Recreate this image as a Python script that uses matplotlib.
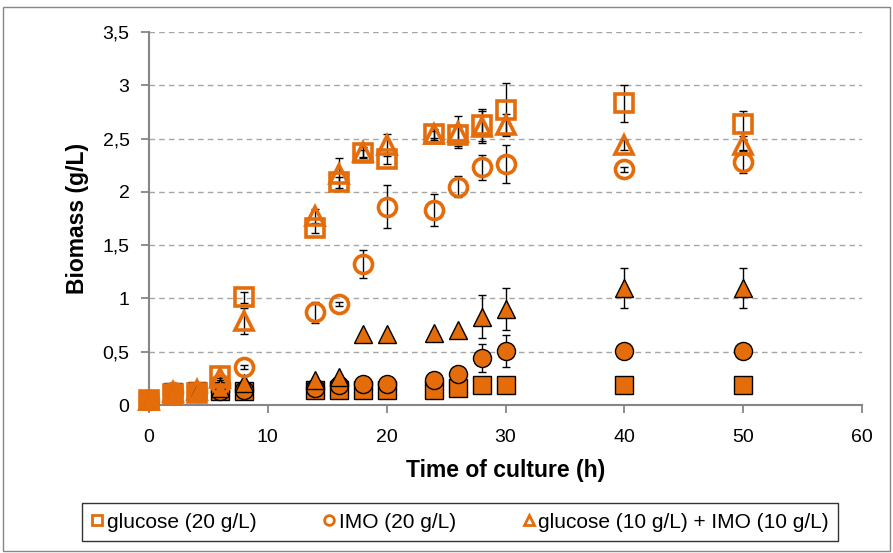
import matplotlib.pyplot as plt
import numpy as np
from matplotlib.ticker import FuncFormatter

plt.rcParams['font.family'] = ['Liberation Sans', 'DejaVu Sans']

# 取样时间 (h)
t = [0, 2, 4, 6, 8, 14, 16, 18, 20, 24, 26, 28, 30, 40, 50]

# 空心标记：生物量
glc_open = [0.05, 0.10, 0.11, 0.27, 1.01, 1.66, 2.09, 2.36, 2.31, 2.54, 2.53, 2.63, 2.77, 2.83, 2.64]
imo_open = [0.05, 0.12, 0.12, 0.20, 0.36, 0.87, 0.95, 1.32, 1.86, 1.83, 2.05, 2.23, 2.26, 2.21, 2.28]
mix_open = [0.05, 0.12, 0.14, 0.25, 0.79, 1.77, 2.17, 2.37, 2.44, 2.54, 2.56, 2.61, 2.63, 2.44, 2.44]
glc_open_err = [0.02, 0.02, 0.02, 0.02, 0.05, 0.05, 0.05, 0.03, 0.05, 0.03, 0.10, 0.15, 0.25, 0.17, 0.12]
imo_open_err = [0.02, 0.02, 0.02, 0.02, 0.02, 0.10, 0.02, 0.13, 0.20, 0.15, 0.10, 0.12, 0.18, 0.02, 0.10]
mix_open_err = [0.02, 0.02, 0.02, 0.02, 0.12, 0.07, 0.15, 0.05, 0.10, 0.05, 0.15, 0.15, 0.10, 0.05, 0.05]

# 实心标记
glc_fill = [0.05, 0.12, 0.13, 0.13, 0.13, 0.14, 0.14, 0.14, 0.14, 0.14, 0.16, 0.19, 0.19, 0.19, 0.19]
imo_fill = [0.06, 0.12, 0.12, 0.13, 0.14, 0.16, 0.19, 0.20, 0.20, 0.23, 0.29, 0.44, 0.51, 0.51, 0.51]
mix_fill = [0.05, 0.12, 0.13, 0.16, 0.21, 0.23, 0.26, 0.67, 0.67, 0.68, 0.70, 0.83, 0.90, 1.10, 1.10]
glc_fill_err = [0.01] * 15
imo_fill_err = [0.01, 0.01, 0.01, 0.01, 0.01, 0.01, 0.01, 0.01, 0.01, 0.01, 0.01, 0.13, 0.15, 0.01, 0.01]
mix_fill_err = [0.01, 0.01, 0.01, 0.01, 0.01, 0.01, 0.01, 0.01, 0.01, 0.01, 0.01, 0.20, 0.20, 0.19, 0.19]

labels = ['glucose (20 g/L)', 'IMO (20 g/L)', 'glucose (10 g/L) + IMO (10 g/L)']
orange = '#E46C0A'

fig = plt.figure(figsize=(8.93, 5.53), dpi=100)
ax = fig.add_axes([149 / 893, 1 - 405 / 553, (862 - 149) / 893, (405 - 32) / 553])

# 误差线
for y, e in [(glc_open, glc_open_err), (imo_open, imo_open_err), (mix_open, mix_open_err),
             (glc_fill, glc_fill_err), (imo_fill, imo_fill_err), (mix_fill, mix_fill_err)]:
    ax.errorbar(t, y, yerr=e, fmt='none', ecolor='black', elinewidth=1, capsize=3, capthick=1, zorder=3)

# 实心
for y, m in [(glc_fill, 's'), (imo_fill, 'o'), (mix_fill, '^')]:
    ax.plot(t, y, linestyle='none', marker=m, markersize=13, markerfacecolor=orange,
            markeredgecolor='black', markeredgewidth=1, zorder=4, clip_on=False)

# 空心
for y, m in [(glc_open, 's'), (imo_open, 'o'), (mix_open, '^')]:
    ax.plot(t, y, linestyle='none', marker=m, markersize=13, markerfacecolor='none',
            markeredgecolor=orange, markeredgewidth=2.6, zorder=5, clip_on=False)

ax.set_xlim(0, 60)
ax.set_ylim(0, 3.5)
ax.set_xticks(np.arange(0, 61, 10))
ax.set_yticks(np.arange(0, 3.51, 0.5))
ax.yaxis.set_major_formatter(FuncFormatter(lambda v, p: ('%g' % v).replace('.', ',')))
ax.tick_params(labelsize=14, color='#868686', length=6, width=1.3)
ax.tick_params(axis='x', pad=11)
ax.tick_params(axis='y', pad=8)
ax.grid(axis='y', linestyle=(0, (4, 3)), color='#A6A6A6', linewidth=1)
ax.set_axisbelow(True)
for s in ['top', 'right']:
    ax.spines[s].set_visible(False)
for s in ['left', 'bottom']:
    ax.spines[s].set_color('#868686')
    ax.spines[s].set_linewidth(1.5)

ax.set_xlabel('Time of culture (h)', fontsize=16.5, fontweight='bold', labelpad=10)
ax.set_ylabel('Biomass (g/L)', fontsize=16.5, fontweight='bold', labelpad=10)

# 图例
handles = [plt.Line2D([], [], linestyle='none', marker=m, markersize=7, markerfacecolor='none',
                      markeredgecolor=orange, markeredgewidth=2) for m in ['s', 'o', '^']]
leg = fig.legend(handles, labels, loc='center', bbox_to_anchor=(460 / 893, 1 - 522 / 553), ncol=3,
                 prop={'size': 15}, frameon=True, fancybox=False, edgecolor='black', handlelength=0.6,
                 handletextpad=0.15, columnspacing=3.2, borderpad=0.45, borderaxespad=0)
leg.get_frame().set_linewidth(1)

# 外框
fig.patches.append(plt.Rectangle((0.003, 0.003), 0.994, 0.985, transform=fig.transFigure,
                                 fill=False, edgecolor='#868686', linewidth=1))

fig.savefig('out.png', dpi=100)
